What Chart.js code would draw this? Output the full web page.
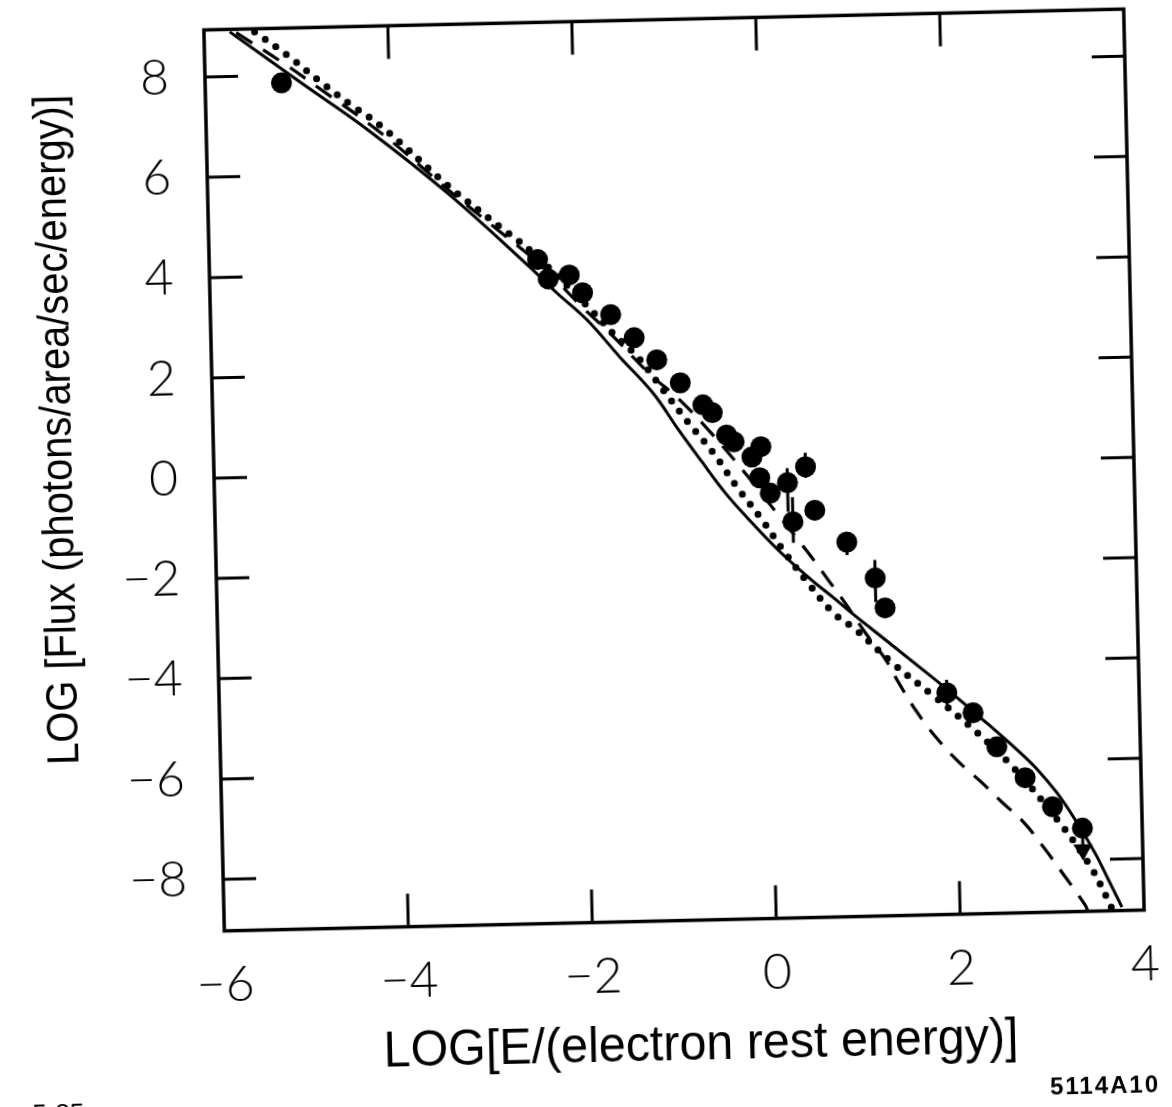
<!DOCTYPE html>
<html><head><meta charset="utf-8">
<script src="https://cdn.jsdelivr.net/npm/chart.js@4.4.1/dist/chart.umd.min.js"></script>
<style>
html,body{margin:0;padding:0;background:#fff;overflow:hidden;width:1172px;height:1107px;}
#wrap{position:absolute;left:-50px;top:-50px;width:1272px;height:1207px;transform-origin:724px 520px;transform:rotate(-1.3deg);}
canvas{display:block;}
</style></head><body>
<div id="wrap"><canvas id="c" width="1272" height="1207"></canvas></div>
<script>
// ---- tick values / labels ----
const xTicks = [-6, -4, -2, 0, 2, 4];
const xTickLabels = ['\u22126', '\u22124', '\u22122', '0', '2', '4'];
const yTicks = [-8, -6, -4, -2, 0, 2, 4, 6, 8];
const yTickLabels = ['\u22128', '\u22126', '\u22124', '\u22122', '0', '2', '4', '6', '8'];

// ---- observed points (filled circles) ----
const obsX = [-5.17, -2.43, -2.32, -2.09, -1.95, -1.65, -1.40, -1.16, -0.91, -0.67, -0.57, -0.42, -0.34, -0.05, -0.15, -0.07, 0.04, 0.23, 0.43, 0.28, 0.52, 0.86, 1.16, 1.26, 1.91, 2.19, 2.44, 2.74, 3.03, 3.35];
const obsY = [7.85, 4.21, 3.82, 3.89, 3.53, 3.08, 2.61, 2.16, 1.69, 1.24, 1.08, 0.63, 0.49, 0.38, 0.18, -0.24, -0.55, -0.35, -0.04, -1.13, -0.91, -1.56, -2.29, -2.89, -4.61, -5.02, -5.71, -6.34, -6.93, -7.37];
const errLow  = [null, null, null, null, null, null, null, null, null, null, null, null, null, null, null, null, null, -0.93, -0.26, -1.55, -1.05, -1.82, -2.77, null, -4.85, -5.15, -5.85, null, -7.05, null];
const errHigh = [null, null, null, null, null, null, null, null, null, null, null, null, null, null, null, null, null, -0.06, 0.24, -0.64, -0.77, -1.36, -1.93, null, -4.35, -4.90, -5.58, null, -6.80, null];

// ---- upper limit (arrow) ----
const limitX = [3.35];
const limitFromY = [-7.37];
const limitY = [-7.80];

// ---- model curves ----
const solidX = [-5.72, -4.97, -4.24, -3.37, -2.52, -2.23, -1.91, -1.56, -1.21, -0.95, -0.70, -0.45, -0.22, 0.13, 0.48, 0.70, 0.91, 1.12, 1.59, 1.95, 2.30, 2.66, 2.87, 3.08, 3.28, 3.48, 3.62, 3.76];
const solidY = [8.89, 7.86, 6.87, 5.54, 4.07, 3.54, 2.99, 2.23, 1.50, 0.78, 0.12, -0.52, -1.02, -1.72, -2.32, -2.66, -3.00, -3.32, -4.04, -4.60, -5.17, -5.78, -6.17, -6.65, -7.22, -7.87, -8.41, -8.96];

const dottedX = [-5.45, -5.10, -4.77, -4.42, -4.09, -3.37, -2.83, -2.48, -1.84, -1.63, -1.37, -1.10, -0.84, -0.57, -0.32, -0.07, 0.18, 0.43, 0.70, 0.93, 1.35, 1.78, 2.23, 2.61, 3.08, 3.42, 3.61, 3.66];
const dottedY = [8.88, 8.40, 7.89, 7.38, 6.93, 5.70, 4.88, 4.35, 3.14, 2.71, 2.23, 1.56, 0.91, 0.28, -0.41, -1.04, -1.73, -2.36, -2.97, -3.30, -4.03, -4.69, -5.42, -6.12, -7.19, -8.11, -8.81, -9.03];

const dashedX = [-5.65, -5.15, -4.78, -4.09, -3.37, -2.83, -2.41, -1.98, -1.63, -1.24, -0.92, -0.58, -0.21, 0.02, 0.44, 0.65, 0.84, 1.04, 1.25, 1.39, 1.58, 1.78, 2.02, 2.27, 2.48, 2.72, 2.93, 3.12, 3.36, 3.39];
const dashedY = [8.87, 8.25, 7.75, 6.79, 5.62, 4.78, 4.12, 3.29, 2.65, 1.88, 1.35, 0.66, -0.18, -0.74, -1.76, -2.31, -2.81, -3.38, -3.91, -4.39, -4.98, -5.49, -5.99, -6.42, -6.81, -7.24, -7.75, -8.25, -8.90, -9.03];

const xTitle = 'LOG[E/(electron rest energy)]';
const yTitle = 'LOG [Flux (photons/area/sec/energy)]';
const cornerLeft = '5-85';
const cornerRight = '5114A10';

const pts = (xs, ys) => xs.map((x, i) => ({x: x, y: ys[i]}));

const framePlugin = {
  id: 'framePlugin',
  afterDatasetsDraw(chart) {
    const ctx = chart.ctx, a = chart.chartArea;
    const xs = chart.scales.x, ys = chart.scales.y;
    ctx.save();
    ctx.strokeStyle = '#000';
    ctx.lineCap = 'butt';
    ctx.lineWidth = 3;
    for (let i = 0; i < obsX.length; i++) {
      if (errLow[i] === null) continue;
      const px = xs.getPixelForValue(obsX[i]);
      ctx.beginPath();
      ctx.moveTo(px, ys.getPixelForValue(errLow[i]));
      ctx.lineTo(px, ys.getPixelForValue(errHigh[i]));
      ctx.stroke();
    }
    for (let i = 0; i < limitX.length; i++) {
      const px = xs.getPixelForValue(limitX[i]);
      ctx.beginPath();
      ctx.moveTo(px, ys.getPixelForValue(limitFromY[i]));
      ctx.lineTo(px, ys.getPixelForValue(limitY[i]));
      ctx.stroke();
    }
    ctx.lineWidth = 3.5;
    ctx.strokeRect(a.left, a.top, a.right - a.left, a.bottom - a.top);
    const L = 33;
    ctx.lineWidth = 3;
    ctx.beginPath();
    xs.ticks.forEach(t => {
      const p = xs.getPixelForValue(t.value);
      if (p <= a.left + 2 || p >= a.right - 2) return;
      ctx.moveTo(p, a.bottom); ctx.lineTo(p, a.bottom - L);
      ctx.moveTo(p, a.top); ctx.lineTo(p, a.top + L);
    });
    ys.ticks.forEach(t => {
      const p = ys.getPixelForValue(t.value);
      ctx.moveTo(a.left, p); ctx.lineTo(a.left + L, p);
      ctx.moveTo(a.right, p); ctx.lineTo(a.right - L, p);
    });
    ctx.stroke();
    ctx.restore();
  },
  afterDraw(chart) {
    const ctx = chart.ctx;
    ctx.save();
    ctx.fillStyle = '#000';
    ctx.font = '400 50px "Liberation Sans Narrow", "Liberation Sans", Arial, sans-serif';
    let w = ctx.measureText(xTitle).width;
    ctx.translate(738, 1110);
    ctx.scale(635 / w, 1);
    ctx.textAlign = 'center';
    ctx.textBaseline = 'alphabetic';
    ctx.fillText(xTitle, 0, 0);
    ctx.restore();
    ctx.save();
    ctx.fillStyle = '#000';
    ctx.font = '400 44px "Liberation Sans Narrow", "Liberation Sans", Arial, sans-serif';
    w = ctx.measureText(yTitle).width;
    ctx.translate(122, 466);
    ctx.rotate(-Math.PI / 2);
    ctx.scale(670 / w, 1);
    ctx.textAlign = 'center';
    ctx.textBaseline = 'alphabetic';
    ctx.fillText(yTitle, 0, 0);
    ctx.restore();
    ctx.save();
    ctx.fillStyle = '#000';
    ctx.font = '400 26px "Liberation Sans", Arial, sans-serif';
    ctx.textAlign = 'left';
    ctx.textBaseline = 'top';
    ctx.fillText(cornerLeft, 68, 1138);
    ctx.font = '700 24px "Liberation Sans", Arial, sans-serif';
    try { ctx.letterSpacing = '2px'; } catch (e) {}
    ctx.textAlign = 'center';
    ctx.textBaseline = 'middle';
    ctx.fillText(cornerRight, 1141, 1146);
    ctx.restore();
  }
};

new Chart(document.getElementById('c'), {
  type: 'scatter',
  data: {
    datasets: [
      { data: pts(obsX, obsY), pointRadius: 10.5, pointHoverRadius: 10.5, backgroundColor: '#000', borderColor: '#000', borderWidth: 0, showLine: false },
      { data: pts(limitX, limitY), pointStyle: 'triangle', rotation: 180, pointRadius: 11, backgroundColor: '#000', borderColor: '#000', borderWidth: 0, showLine: false },
      { data: pts(solidX, solidY), showLine: true, pointRadius: 0, borderColor: '#000', borderWidth: 3, tension: 0.4, fill: false },
      { data: pts(dashedX, dashedY), showLine: true, pointRadius: 0, borderColor: '#000', borderWidth: 3.2, borderDash: [19, 13], tension: 0.4, fill: false },
      { data: pts(dottedX, dottedY), showLine: true, pointRadius: 0, borderColor: '#000', borderWidth: 7, borderDash: [0, 13], borderCapStyle: 'round', tension: 0.4, fill: false }
    ]
  },
  options: {
    responsive: false,
    animation: false,
    devicePixelRatio: 1,
    events: [],
    layout: { padding: { top: 69.4, right: 88, left: 0, bottom: 0 } },
    plugins: { legend: { display: false }, tooltip: { enabled: false } },
    scales: {
      x: {
        type: 'linear', position: 'bottom', min: -6, max: 4,
        afterBuildTicks: s => { s.ticks = xTicks.map(v => ({ value: v })); },
        afterFit: s => { s.height = 1207 - 970.6; },
        grid: { display: false, drawTicks: false },
        border: { display: false },
        ticks: {
          padding: 24, color: '#000', maxRotation: 0, autoSkip: false,
          font: { family: 'Lato, "DejaVu Sans", sans-serif', size: 50, weight: 300 },
          callback: v => xTickLabels[xTicks.indexOf(v)]
        }
      },
      y: {
        type: 'linear', position: 'left', min: -9.03, max: 8.94,
        afterBuildTicks: s => { s.ticks = yTicks.map(v => ({ value: v })); },
        afterFit: s => { s.width = 264; },
        grid: { display: false, drawTicks: false },
        border: { display: false },
        ticks: {
          padding: 36, color: '#000', autoSkip: false,
          font: { family: 'Lato, "DejaVu Sans", sans-serif', size: 50, weight: 300 },
          callback: v => yTickLabels[yTicks.indexOf(v)]
        }
      }
    }
  },
  plugins: [framePlugin]
});
</script>
</body></html>
